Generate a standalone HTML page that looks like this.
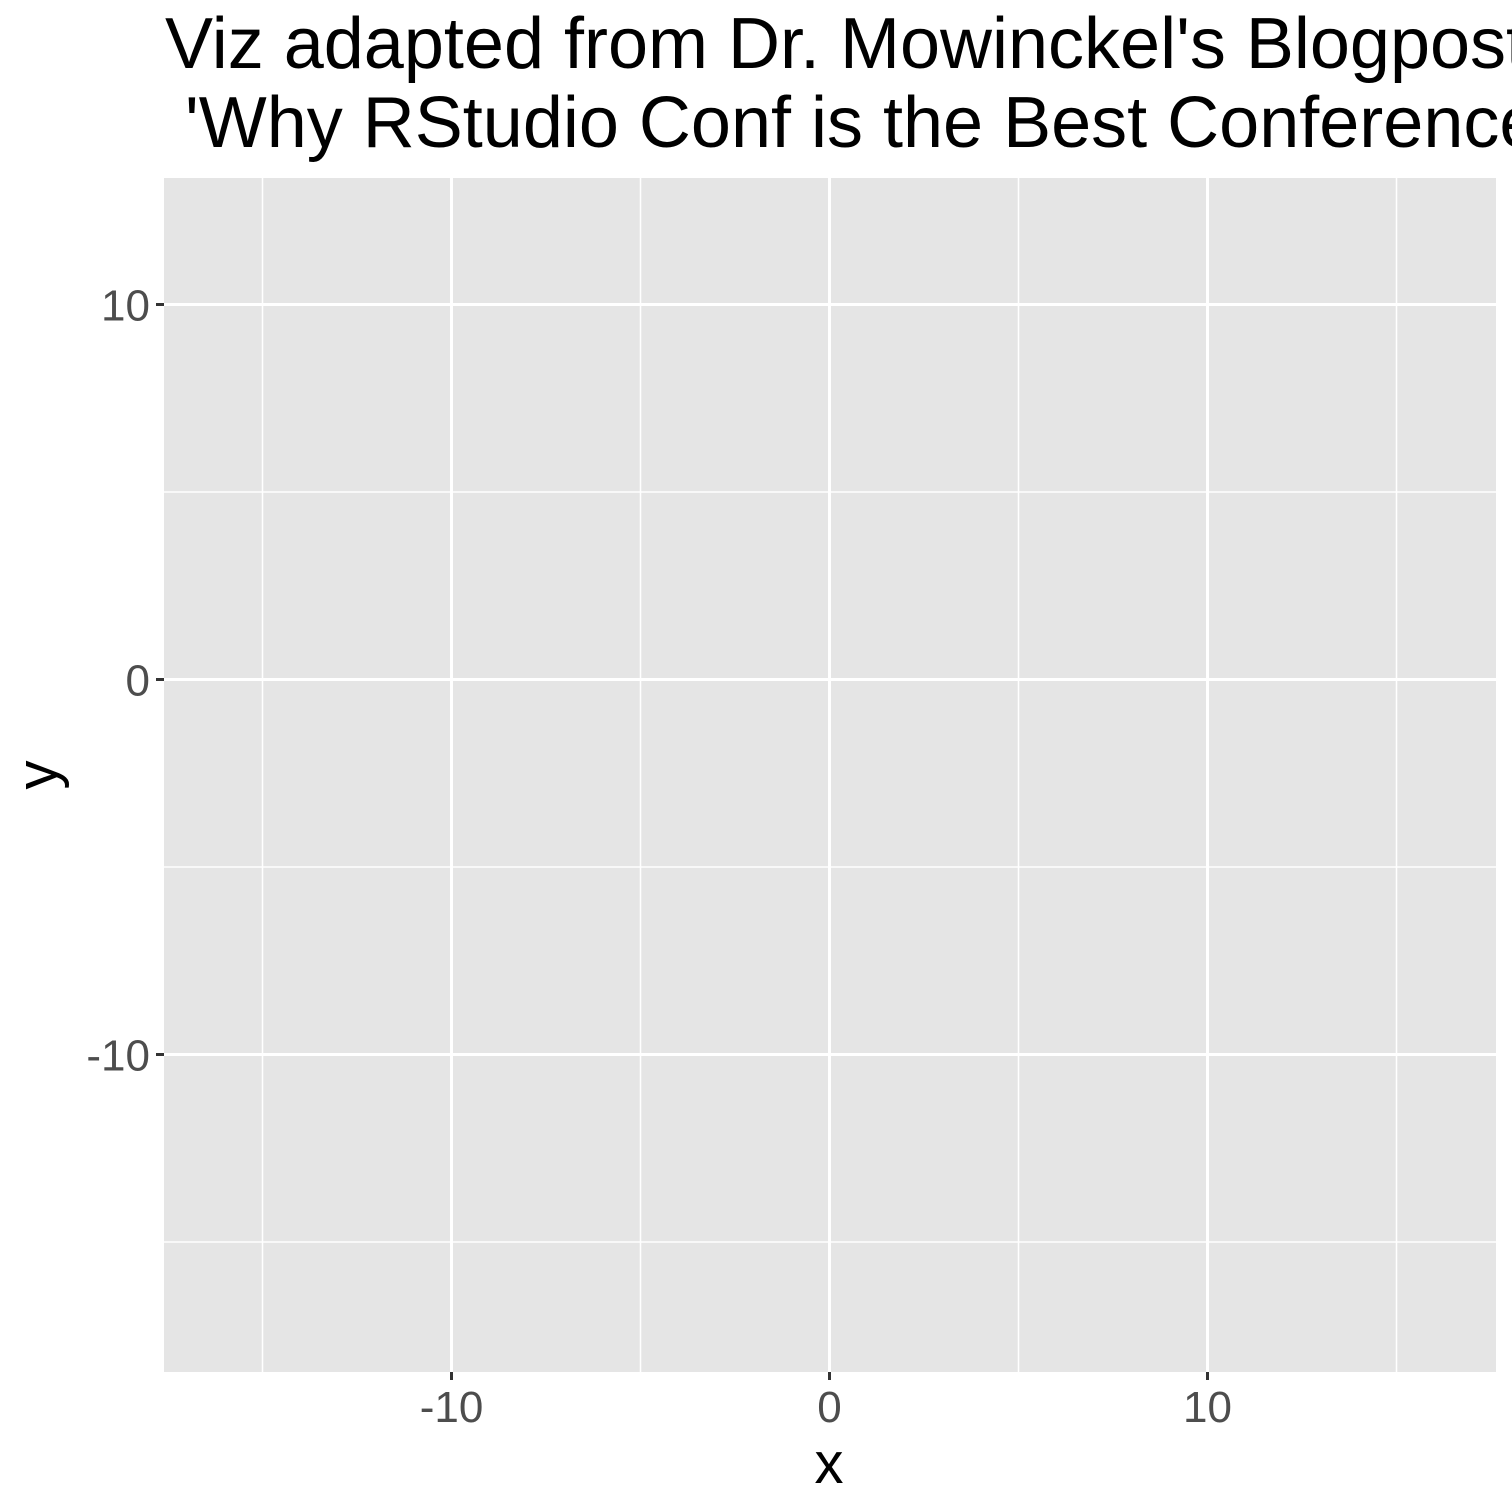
<!DOCTYPE html>
<html><head><meta charset="utf-8"><style>
html,body{margin:0;padding:0;background:#fff;}
svg{display:block;font-family:"Liberation Sans",Arial,sans-serif;}
</style></head><body>
<svg id="chart" width="1512" height="1512" viewBox="0 0 1512 1512" xmlns="http://www.w3.org/2000/svg">
<rect width="1512" height="1512" fill="#fff"/>
<text x="165" y="68" font-size="72" fill="#000">Viz adapted from Dr. Mowinckel's Blogpost</text>
<text x="165" y="147" font-size="72" fill="#000" xml:space="preserve"> 'Why RStudio Conf is the Best Conference'</text>
<rect x="164" y="178" width="1332" height="1194" fill="#e5e5e5"/>
<g id="grid"></g>
<g id="axes"></g>
<text x="829" y="1483" font-size="58" text-anchor="middle" fill="#000">x</text>
<text transform="translate(57,775) rotate(-90)" font-size="58" text-anchor="middle" fill="#000">y</text>
</svg>
<script>
const xMajor = [-10, 0, 10];
const xMinor = [-15, -5, 5, 15];
const yMajor = [-10, 0, 10];
const yMinor = [-15, -5, 5];
const xTickLabels = ["-10", "0", "10"];
const yTickLabels = ["-10", "0", "10"];

const px0 = 164, px1 = 1496, py0 = 178, py1 = 1372;
function sx(v){ return 829.5 + v * 37.8; }
function sy(v){ return 679.5 - v * 37.5; }
const NS = "http://www.w3.org/2000/svg";
const grid = document.getElementById('grid');
const axes = document.getElementById('axes');
function line(parent, x1, y1, x2, y2, stroke, w, name){
  const l = document.createElementNS(NS, 'line');
  l.setAttribute('x1', x1); l.setAttribute('y1', y1);
  l.setAttribute('x2', x2); l.setAttribute('y2', y2);
  l.setAttribute('stroke', stroke); l.setAttribute('stroke-width', w);
  
  
  parent.appendChild(l);
  return l;
}
function label(parent, x, y, txt, anchor, name){
  const t = document.createElementNS(NS, 'text');
  t.setAttribute('x', x); t.setAttribute('y', y);
  t.setAttribute('font-size', '44');
  t.setAttribute('fill', '#4d4d4d');
  t.setAttribute('text-anchor', anchor);
  t.textContent = txt;
  
  
  parent.appendChild(t);
}
xMinor.forEach(v => line(grid, sx(v), py0, sx(v), py1, '#fff', 1.5, 'x-minor-gridline'));
yMinor.forEach(v => line(grid, px0, sy(v), px1, sy(v), '#fff', 1.5, 'y-minor-gridline'));
xMajor.forEach(v => line(grid, sx(v), py0, sx(v), py1, '#fff', 3, 'x-major-gridline'));
yMajor.forEach(v => line(grid, px0, sy(v), px1, sy(v), '#fff', 3, 'y-major-gridline'));
xMajor.forEach((v, i) => {
  line(axes, sx(v), py1, sx(v), py1 + 8, '#333', 3, 'x-axis-tick');
  label(axes, sx(v), 1422, xTickLabels[i], 'middle', 'x-tick-label');
});
yMajor.forEach((v, i) => {
  line(axes, px0 - 8, sy(v), px0, sy(v), '#333', 3, 'y-axis-tick');
  label(axes, 150, sy(v) + 16, yTickLabels[i], 'end', 'y-tick-label');
});
</script>
</body></html>
